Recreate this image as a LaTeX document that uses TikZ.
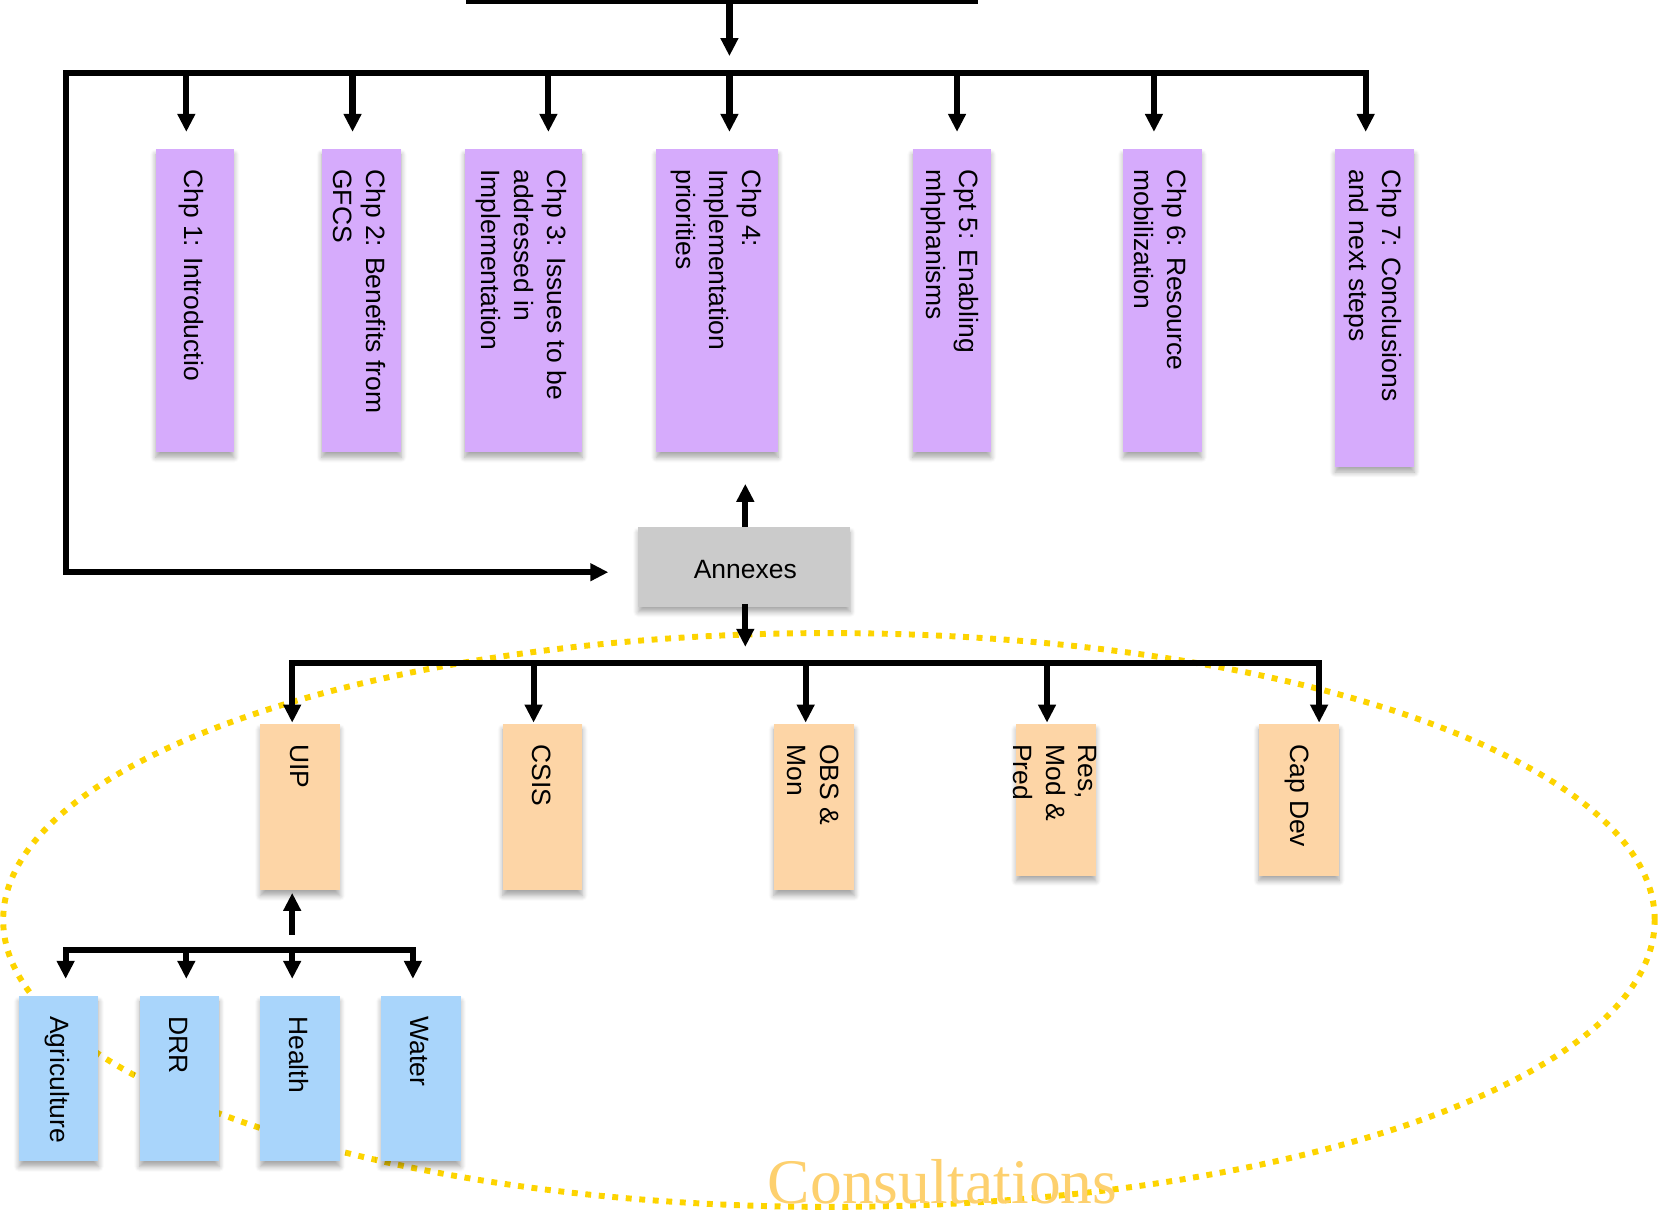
\documentclass[tikz,border=0pt]{standalone}
\usepackage{fontspec}
\setmainfont{Liberation Sans}
\newfontfamily\consfont{Liberation Serif}
\usetikzlibrary{arrows.meta,fit,calc,shadows.blur}
\definecolor{purp}{HTML}{D6ABFC}
\definecolor{orng}{HTML}{FDD5A6}
\definecolor{blu}{HTML}{A9D5FB}
\definecolor{gry}{HTML}{CBCBCB}
\definecolor{ellc}{HTML}{FDD400}
\definecolor{consc}{HTML}{FDD06E}
\begin{document}
\begin{tikzpicture}[x=0.5pt,y=-0.5pt,
  line/.style={line width=2.9pt,line cap=rect},
  arr/.style={line width=2.9pt,-{Triangle[width=8pt,length=8.5pt]}},
  box/.style={inner sep=0pt,draw=none,blur shadow={shadow xshift=0pt,shadow yshift=-2.5pt,shadow blur radius=2.5pt,shadow blur steps=6,shadow opacity=35}},
  pbox/.style={box,fill=purp},
  obox/.style={box,fill=orng},
  bbox/.style={box,fill=blu},
  gbox/.style={box,fill=gry},
  vtext/.style={rotate=-90,anchor=west,align=left,inner sep=0pt,font=\fontsize{12.5pt}{15.5pt}\selectfont},
  ell/.style={draw=ellc,line width=2.8pt,dash pattern=on 2.8pt off 3.6pt}
]
\useasboundingbox (0,0) rectangle (1568,1145);

% consultation ellipse
\draw[ell] (783,869) ellipse [x radius=390pt, y radius=135.5pt];

% chapter boxes
\node[pbox,fit={(147,141) (221,427)}] (ch1) {};
\node[pbox,fit={(304,141) (379,427)}] (ch2) {};
\node[pbox,fit={(439,141) (550,427)}] (ch3) {};
\node[pbox,fit={(620,141) (735,427)}] (ch4) {};
\node[pbox,fit={(862,141) (936,427)}] (ch5) {};
\node[pbox,fit={(1061,141) (1135,427)}] (ch6) {};
\node[pbox,fit={(1261,141) (1336,441)}] (ch7) {};
\node[vtext] (t1) at ($(ch1.north)+(-3,19)$) {Chp 1: Introductio};
\node[vtext] (t2) at ($(ch2.north)+(-2,19)$) {Chp 2: Benefits from\\GFCS};
\node[vtext] (t3) at ($(ch3.north)+(-2,19)$) {Chp 3: Issues to be\\addressed in\\Implementation};
\node[vtext] (t4) at ($(ch4.north)+(-1,19)$) {Chp 4:\\Implementation\\priorities};
\node[vtext] (t5) at ($(ch5.north)+(-2,19)$) {Cpt 5: Enabling\\mhphanisms};
\node[vtext] (t6) at ($(ch6.north)+(-2,19)$) {Chp 6: Resource\\mobilization};
\node[vtext] (t7) at ($(ch7.north)+(-2,19)$) {Chp 7: Conclusions\\and next steps};

% annexes
\node[gbox,fit={(603,498) (803,573)}] (annex) {};
\node[inner sep=0pt,font=\fontsize{12.5pt}{15pt}\selectfont] (tann) at ($(annex.center)+(1,2)$) {Annexes};

% annex boxes
\node[obox,fit={(246,684) (321,841)}] (uip) {};
\node[obox,fit={(475,684) (550,841)}] (csis) {};
\node[obox,fit={(731,684) (807,841)}] (obs) {};
\node[obox,fit={(960,684) (1035,827)}] (res) {};
\node[obox,fit={(1189,684) (1265,827)}] (cap) {};
\node[vtext] (tu) at ($(uip.north)+(-1,19)$) {UIP};
\node[vtext] (tc) at ($(csis.north)+(-1,19)$) {CSIS};
\node[vtext] (to) at ($(obs.north)+(-1,19)$) {OBS \&\\Mon};
\node[vtext] (tr) at ($(res.north)+(-1,19)$) {Res,\\Mod \&\\Pred};
\node[vtext] (tcd) at ($(cap.north)+(-2,19)$) {Cap Dev};

% sector boxes
\node[bbox,fit={(18,941) (93,1097)}] (agr) {};
\node[bbox,fit={(132,941) (207,1097)}] (drr) {};
\node[bbox,fit={(246,941) (321,1097)}] (hea) {};
\node[bbox,fit={(360,941) (435,1097)}] (wat) {};
\node[vtext] (ta) at ($(agr.north)+(-1,19)$) {Agriculture};
\node[vtext] (td) at ($(drr.north)+(-1,19)$) {DRR};
\node[vtext] (th) at ($(hea.north)+(-1,19)$) {Health};
\node[vtext] (tw) at ($(wat.north)+(-1,19)$) {Water};

% top connectors
\coordinate (topL) at (443,1);
\coordinate (topR) at (921,1);
\coordinate (topM) at (689,1);
\coordinate (topTip) at (689,53);
\draw[line] (topL) -- (topR);
\draw[arr] (topM) -- (topTip);

\coordinate (b1L) at (62,69);
\coordinate (b1R) at (1290,69);
\draw[arr,shorten >=8pt] (b1L) -- (b1R) -- (b1R |- ch7.north);
\draw[arr,shorten >=14pt] (b1R) -- (b1L) |- ($(annex.west)+(0,5)$);
\foreach \x/\n in {176/ch1,333/ch2,518/ch3,689/ch4,904/ch5,1090/ch6}{
  \coordinate (d\n) at (\x,69);
  \draw[arr,shorten >=8pt] (d\n) -- (d\n |- \n.north);
}

% annexes connectors
\coordinate (upTip) at (704,457);
\coordinate (dnTip) at (704,611);
\draw[arr] (annex.north -| upTip) -- (upTip);
\draw[arr] ($(annex.south -| dnTip)+(0,-3)$) -- (dnTip);

\coordinate (b2L) at (276,626);
\coordinate (b2R) at (1246,626);
\draw[arr,shorten >=0.5pt] (b2R) -- (b2L) -- (b2L |- uip.north);
\draw[arr,shorten >=0.5pt] (b2L) -- (b2R) -- (b2R |- cap.north);
\foreach \x/\n in {504/csis,761/obs,989/res}{
  \coordinate (e\n) at (\x,626);
  \draw[arr,shorten >=0.5pt] (e\n) -- (e\n |- \n.north);
}

% UIP connectors
\coordinate (uStem) at (276,883);
\draw[arr,shorten >=1pt] (uStem) -- (uStem |- uip.south);
\coordinate (b3L) at (62,897);
\coordinate (b3R) at (390,897);
\draw[arr,shorten >=8pt] (b3R) -- (b3L) -- (b3L |- agr.north);
\draw[arr,shorten >=8pt] (b3L) -- (b3R) -- (b3R |- wat.north);
\foreach \x/\n in {176/drr,276/hea}{
  \coordinate (f\n) at (\x,897);
  \draw[arr,shorten >=8pt] (f\n) -- (f\n |- \n.north);
}

% label
\node[anchor=base west,inner sep=0pt,text=consc,font=\consfont\fontsize{30pt}{36pt}\selectfont] (cons) at (725,1137) {Consultations};
\end{tikzpicture}
\end{document}
